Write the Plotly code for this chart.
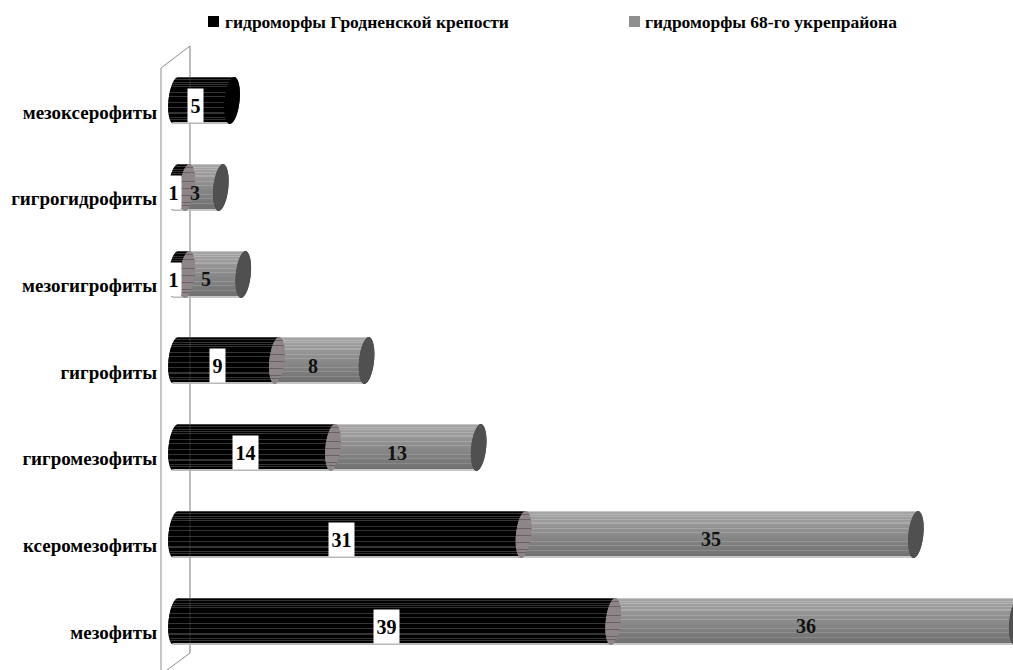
import numpy as np
import plotly.graph_objects as go

categories = ["мезофиты", "ксеромезофиты", "гигромезофиты", "гигрофиты",
              "мезогигрофиты", "гигрогидрофиты", "мезоксерофиты"]
grodno = [39, 31, 14, 9, 1, 1, 5]
ukrep = [36, 35, 13, 8, 5, 3, 0]
series_names = ["гидроморфы Гродненской крепости", "гидроморфы 68-го укрепрайона"]

FONT = "Liberation Serif"
W, H = 1013, 670
LEFT = 160
PX_PER_VALUE = 11.21
ZERO_PX = 176
PX_PER_ROW = 86.67
LABEL_ROW_PX = 632        # pixel row of the first category label
BAR_LIFT = 11             # bars sit slightly above their labels (oblique depth)
CAP_HALF = 7.5 / PX_PER_VALUE
TILT = 2.2 / PX_PER_VALUE
BAND_ROWS = 46

# Shading of the cylinder, one entry per pixel row from top to bottom
gray_light_rows = {3, 5, 8, 11, 12, 17, 21, 30, 34, 39}
black_light_rows = {2, 5, 7, 9, 15, 19, 25, 30, 35, 36, 40, 42}
junction_dark_rows = {3, 8, 17, 24, 31, 38, 41}


def hexgray(v):
    v = int(v)
    return f"rgb({v},{v},{v})"


def gray_shades():
    ramp = np.linspace(166, 112, BAND_ROWS)
    out = []
    for k, v in enumerate(ramp):
        if k == 0 or k == BAND_ROWS - 1:
            out.append(hexgray(198))
        elif k in gray_light_rows:
            out.append(hexgray(v + 18))
        else:
            out.append(hexgray(v))
    return out


def black_shades():
    out = []
    for k in range(BAND_ROWS):
        if k == 0:
            out.append(hexgray(70))
        elif k == BAND_ROWS - 1:
            out.append(hexgray(185))
        elif k in black_light_rows:
            out.append(hexgray(52))
        else:
            out.append(hexgray(0))
    return out


def junction_shades():
    return ["rgb(108,96,102)" if k in junction_dark_rows else "rgb(142,133,137)"
            for k in range(BAND_ROWS)]


def row_offsets():
    # t runs +1 at the top edge of a cylinder to -1 at its bottom edge
    return [(BAND_ROWS / 2 - 0.5 - k) / (BAND_ROWS / 2) for k in range(BAND_ROWS)]


def band_y(row, k):
    return row + (BAR_LIFT + (BAND_ROWS / 2 - 0.5 - k)) / PX_PER_ROW


def add_body(fig, row_starts, row_ends, shades):
    ys, bases, lens, cols = [], [], [], []
    for row, (a, b) in enumerate(zip(row_starts, row_ends)):
        if b <= a:
            continue
        for k, t in enumerate(row_offsets()):
            ys.append(band_y(row, k))
            bases.append(a + TILT * t)
            lens.append(b - a)
            cols.append(shades[k])
    fig.add_trace(go.Bar(orientation="h", y=ys, x=lens, base=bases,
                         width=1.02 / PX_PER_ROW, showlegend=False, hoverinfo="skip",
                         marker=dict(color=cols, line=dict(width=0))))


def add_caps(fig, centers, shades):
    ys, bases, lens, cols = [], [], [], []
    for row, c in enumerate(centers):
        if c is None:
            continue
        for k, t in enumerate(row_offsets()):
            half = CAP_HALF * np.sqrt(max(0.0, 1 - t * t))
            ys.append(band_y(row, k))
            bases.append(c + TILT * t - half)
            lens.append(2 * half)
            cols.append(shades[k])
    fig.add_trace(go.Bar(orientation="h", y=ys, x=lens, base=bases,
                         width=1.02 / PX_PER_ROW, showlegend=False, hoverinfo="skip",
                         marker=dict(color=cols, line=dict(width=0))))


fig = go.Figure()
totals = [a + b for a, b in zip(grodno, ukrep)]
black_all = [hexgray(0)] * BAND_ROWS

# Bodies and caps of the stacked cylinders, back to front
add_caps(fig, [0] * len(grodno), black_shades())
add_body(fig, [0] * len(grodno), grodno, black_shades())
add_caps(fig, [g if u == 0 else None for g, u in zip(grodno, ukrep)], black_all)
add_body(fig, grodno, totals, gray_shades())
add_caps(fig, [g if u > 0 else None for g, u in zip(grodno, ukrep)], junction_shades())
add_caps(fig, [t if u > 0 else None for t, u in zip(totals, ukrep)], [hexgray(80)] * BAND_ROWS)


def paper_x(px):
    return (px - LEFT) / (W - LEFT)


def paper_y(py):
    return 1 - py / H


# Oblique wall behind the bars
wall_color = "#8f8f8f"
shapes = []
for (x0, y0, x1, y1) in [(161, 68, 161, 670), (161, 68, 190, 46), (190, 46, 190, 653),
                         (190, 653, 167, 670)]:
    shapes.append(dict(type="line", xref="paper", yref="paper", layer="below",
                       x0=paper_x(x0), y0=paper_y(y0), x1=paper_x(x1), y1=paper_y(y1),
                       line=dict(color=wall_color, width=1)))
shapes.append(dict(type="line", xref="paper", yref="paper", layer="above",
                   x0=paper_x(190), y0=paper_y(46), x1=paper_x(190), y1=paper_y(653),
                   line=dict(color="rgba(130,130,130,0.3)", width=1)))

# Legend swatches
for sx, col in [(208, "#000000"), (629, "#8f8f8f")]:
    shapes.append(dict(type="rect", xref="paper", yref="paper", layer="above",
                       x0=paper_x(sx), x1=paper_x(sx + 11),
                       y0=paper_y(27), y1=paper_y(16),
                       fillcolor=col, line=dict(width=0)))

annotations = []
for text, tx in zip(series_names, [223, 643]):
    annotations.append(dict(xref="paper", yref="paper", x=paper_x(tx), y=paper_y(22),
                            xanchor="left", yanchor="middle", showarrow=False, text=f"<b>{text}</b>",
                            font=dict(family=FONT, size=17.5, color="#000000")))

# Value labels: white plates for the first series, bare numbers for the second
for row, (g, u) in enumerate(zip(grodno, ukrep)):
    annotations.append(dict(x=g / 2, y=row, xshift=-8.5, yshift=6, showarrow=False,
                            text=f"<b>{g}</b>", bgcolor="#ffffff",
                            width=25 if g >= 10 else 15, height=33, borderpad=0,
                            font=dict(family=FONT, size=20, color="#000000")))
    if u > 0:
        annotations.append(dict(x=g + u / 2, y=row, xshift=-9, yshift=6, showarrow=False,
                                text=f"<b>{u}</b>",
                                font=dict(family=FONT, size=20, color="#111111")))

fig.update_layout(
    width=W, height=H, autosize=False,
    margin=dict(l=LEFT, r=0, t=0, b=0),
    plot_bgcolor="#ffffff", paper_bgcolor="#ffffff",
    barmode="overlay", showlegend=False,
    shapes=shapes, annotations=annotations,
    xaxis=dict(range=[(LEFT - ZERO_PX) / PX_PER_VALUE, (W - ZERO_PX) / PX_PER_VALUE],
               visible=False, fixedrange=True),
    yaxis=dict(range=[(LABEL_ROW_PX - H) / PX_PER_ROW, LABEL_ROW_PX / PX_PER_ROW],
               tickvals=list(range(len(categories))), ticktext=[f"<b>{c}</b>" for c in categories],
               showgrid=False, zeroline=False, showline=False, ticks="", fixedrange=True,
               ticklabelstandoff=2,
               tickfont=dict(family=FONT, size=19, color="#000000")),
)

fig.write_html("out.html", config=dict(displayModeBar=False))
